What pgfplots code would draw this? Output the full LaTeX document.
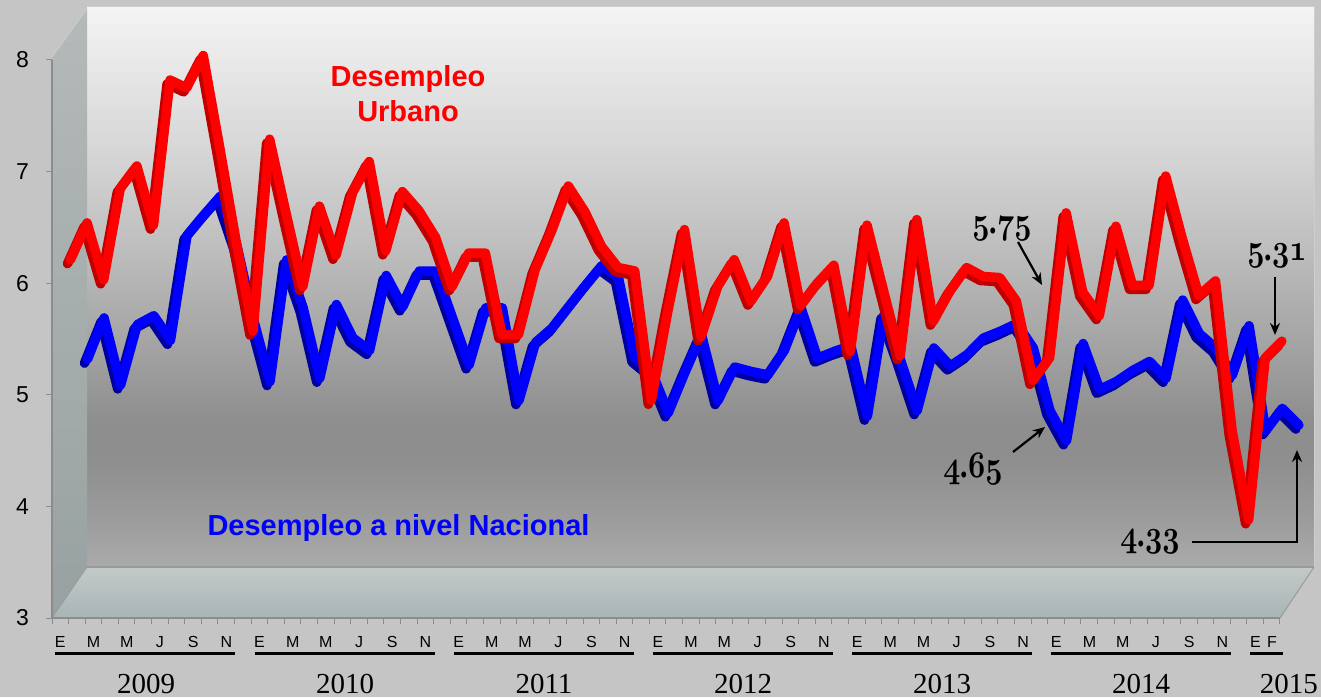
\documentclass[border=0pt]{standalone}
\usepackage{pgfplots}
\usepackage{pgfplotstable}
\pgfplotsset{compat=1.18}
\usetikzlibrary{arrows.meta}
\usepackage{graphicx}
\usepackage{fontspec}
\setmainfont{Liberation Serif}
\setsansfont{Liberation Sans}
\font\osfont=cmmib10 at 34pt
\newcommand\ann[2]{\scalebox{0.88}[1.1]{{\osfont #1}{\fontsize{34}{34}\selectfont\bfseries .}{\osfont #2}}}

\definecolor{bgc}{HTML}{C5C5C5}
\definecolor{wA}{HTML}{ABABAB}
\definecolor{wB}{HTML}{9C9C9C}
\definecolor{wC}{HTML}{8E8E8E}
\definecolor{wD}{HTML}{A2A2A2}
\definecolor{wE}{HTML}{BDBDBD}
\definecolor{wF}{HTML}{D6D6D6}
\definecolor{wG}{HTML}{F4F4F4}
\definecolor{lwTop}{HTML}{B4B9B9}
\definecolor{lwBot}{HTML}{98A1A1}
\definecolor{flTop}{HTML}{C3C9C9}
\definecolor{flBot}{HTML}{A9B4B4}
\definecolor{axc}{HTML}{8C8C8C}
\definecolor{edgec}{HTML}{9A9A9A}
\definecolor{rdark}{HTML}{C00000}
\definecolor{rbright}{HTML}{FF0000}
\definecolor{bdark}{HTML}{0000A0}
\definecolor{bbright}{HTML}{0000FF}

\pgfdeclareverticalshading{wallshade}{100bp}{color(0bp)=(wA); color(25bp)=(wA); color(29.2bp)=(wB); color(34.6bp)=(wC); color(38.1bp)=(wC); color(44.4bp)=(wD); color(53.3bp)=(wE); color(62.2bp)=(wF); color(75bp)=(wG); color(100bp)=(wG)}

\pgfplotstableread{
i v
0 6.04
1 6.37
2 5.86
3 6.68
4 6.88
5 6.35
6 7.65
7 7.58
8 7.87
9 7.04
10 6.19
11 5.40
12 7.12
13 6.45
14 5.80
15 6.52
16 6.08
17 6.64
18 6.92
19 6.12
20 6.65
21 6.48
22 6.24
23 5.80
24 6.10
25 6.10
26 5.37
27 5.37
28 5.95
29 6.30
30 6.70
31 6.47
32 6.16
33 5.97
34 5.94
35 4.78
36 5.58
37 6.31
38 5.35
39 5.80
40 6.04
41 5.67
42 5.89
43 6.37
44 5.63
45 5.83
46 5.99
47 5.22
48 6.35
49 5.76
50 5.18
51 6.40
52 5.49
53 5.76
54 5.97
55 5.89
56 5.88
57 5.67
58 4.96
59 5.16
60 6.46
61 5.75
62 5.54
63 6.34
64 5.81
65 5.81
66 6.79
67 6.23
68 5.72
69 5.85
70 4.51
71 3.71
72 5.16
73 5.31
}\urbano

\pgfplotstableread{
i v
0 4.92
1 5.29
2 4.69
3 5.23
4 5.31
5 5.09
6 6.03
7 6.21
8 6.38
9 5.94
10 5.28
11 4.72
12 5.81
13 5.38
14 4.75
15 5.41
16 5.11
17 5.00
18 5.67
19 5.39
20 5.71
21 5.71
22 5.29
23 4.87
24 5.38
25 5.38
26 4.55
27 5.07
28 5.20
29 5.39
30 5.58
31 5.76
32 5.65
33 4.93
34 4.81
35 4.44
36 4.80
37 5.14
38 4.55
39 4.85
40 4.81
41 4.78
42 5.00
43 5.38
44 4.93
45 4.99
46 5.04
47 4.41
48 5.32
49 4.91
50 4.46
51 5.02
52 4.86
53 4.96
54 5.11
55 5.17
56 5.24
57 5.02
58 4.46
59 4.19
60 5.06
61 4.65
62 4.72
63 4.82
64 4.90
65 4.75
66 5.45
67 5.15
68 5.02
69 4.78
70 5.22
71 4.28
72 4.48
73 4.33
}\nacional

\begin{document}
\begin{tikzpicture}[x=1pt,y=1pt]
\fill[bgc] (0,0) rectangle (1321,697);
% back wall
\shade[shading=wallshade] (87,130) rectangle (1314,690);
\draw[color=bgc!85!white, line width=1pt] (87,690) -- (1314,690) -- (1314,130);
% left wall
\shade[top color=lwTop, bottom color=lwBot] (52,79) -- (52,640) -- (87,688) -- (87,130) -- cycle;
\draw[color=lwTop!70!white, line width=0.8pt] (52,640) -- (87,688);
% floor
\shade[top color=flTop, bottom color=flBot] (52,79) -- (1280,79) -- (1314,130) -- (87,130) -- cycle;
\draw[edgec, line width=1.2pt] (87,130) -- (1314,130);
\draw[edgec, line width=1pt] (1280,79) -- (1314,130);
\draw[edgec, line width=0.8pt] (52,79) -- (87,130);

\begin{axis}[
  at={(52pt,79pt)}, anchor=south west,
  scale only axis, width=1228pt, height=558pt,
  xmin=-0.5, xmax=73.5, ymin=3, ymax=8,
  axis x line*=bottom, axis y line*=left,
  axis line style={draw=axc, line width=1.3pt, -},
  xtick={-0.5,0.5,...,73.5}, xticklabels={},
  ytick={3,4,5,6,7,8}, yticklabels={3,4,5,6,7,8},
  tick align=outside, major tick length=6pt,
  tick style={draw=axc, line width=1pt},
  yticklabel style={font=\fontsize{23}{23}\selectfont\sffamily, anchor=east, inner sep=0pt, xshift=-17pt},
  clip=false,
]
\addplot[bdark, line width=9.5pt, line join=round, line cap=round, xshift=24.2pt, yshift=40.5pt] table[x=i,y=v]{\nacional};
\addplot[bbright, line width=9.5pt, line join=round, line cap=round, xshift=27.2pt, yshift=44.5pt] table[x=i,y=v]{\nacional};
\addplot[rdark, line width=9.5pt, line join=round, line cap=round, xshift=7.2pt, yshift=15pt] table[x=i,y=v]{\urbano};
\addplot[rbright, line width=9.5pt, line join=round, line cap=round, xshift=10.2pt, yshift=19pt] table[x=i,y=v]{\urbano};
\end{axis}

% series labels
\node[font=\sffamily\bfseries\fontsize{29}{29}\selectfont, text=rbright, anchor=base] at (408,610) {Desempleo};
\node[font=\sffamily\bfseries\fontsize{29}{29}\selectfont, text=rbright, anchor=base] at (408,575) {Urbano};
\node[font=\sffamily\bfseries\fontsize{29}{29}\selectfont, text=bbright, anchor=base] at (398.5,162) {Desempleo a nivel Nacional};

% annotations
\node[inner sep=0pt] at (1002,468) {\ann{5}{75}};
\node[inner sep=0pt] at (973,228) {\ann{4}{65}};
\node[inner sep=0pt] at (1277,441) {\ann{5}{31}};
\node[inner sep=0pt] at (1150,155) {\ann{4}{33}};
\draw[line width=2.2pt, -{Stealth[length=12pt,width=10pt]}] (1018,455) -- (1042,412);
\draw[line width=2.2pt, -{Stealth[length=12pt,width=10pt]}] (1013,245) -- (1045,270);
\draw[line width=2.2pt, -{Stealth[length=12pt,width=10pt]}] (1275,420) -- (1275,362);
\draw[line width=2pt, -{Stealth[length=12pt,width=10pt]}] (1192,155) -- (1297,155) -- (1297,247);

% month labels
\foreach \yr in {0,...,5}{
  \foreach \m/\l in {0/E,2/M,4/M,6/J,8/S,10/N}{
    \node[anchor=base, font=\sffamily\fontsize{16}{16}\selectfont, inner sep=0pt] at ({60.3+16.6*(\m+12*\yr)},50) {\l};
  }
  \draw[line width=3pt] ({60.3+16.6*12*\yr-5},43.5) -- ({60.3+16.6*(12*\yr+10)+9},43.5);
}
\node[anchor=base, font=\sffamily\fontsize{16}{16}\selectfont, inner sep=0pt] at ({60.3+16.6*72},50) {E};
\node[anchor=base, font=\sffamily\fontsize{16}{16}\selectfont, inner sep=0pt] at ({60.3+16.6*73},50) {F};
\draw[line width=3pt] (1250,43.5) -- (1283,43.5);

% years
\foreach \yr/\t in {0/2009,1/2010,2/2011,3/2012,4/2013,5/2014}{
  \node[anchor=base, font=\fontsize{29}{29}\selectfont, inner sep=0pt] at ({146+199*\yr},4) {\t};
}
\node[anchor=base east, font=\fontsize{29}{29}\selectfont, inner sep=0pt] at (1318,4) {2015};

\pgfresetboundingbox
\useasboundingbox (0,0) rectangle (1321,697);
\end{tikzpicture}
\end{document}
